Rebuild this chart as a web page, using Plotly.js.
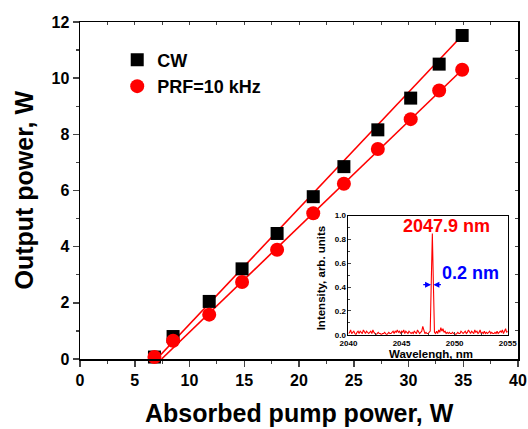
<!DOCTYPE html>
<html>
<head>
<meta charset="utf-8">
<script src="https://cdn.plot.ly/plotly-3.0.1.min.js"></script>
<style>html,body{margin:0;padding:0;background:#fff;}#chart{width:528px;height:429px;}</style>
</head>
<body>
<div id="chart"></div>
<script>
// Main data: absorbed pump power (W) vs output power (W)
const cwPump = [6.8, 8.5, 11.8, 14.8, 18.0, 21.3, 24.1, 27.2, 30.2, 32.8, 34.9];
const cwOut = [0.07, 0.80, 2.05, 3.21, 4.47, 5.78, 6.85, 8.16, 9.29, 10.50, 11.52];
const prfPump = [6.8, 8.5, 11.8, 14.8, 18.0, 21.3, 24.1, 27.2, 30.2, 32.8, 34.9];
const prfOut = [0.07, 0.65, 1.58, 2.74, 3.89, 5.19, 6.24, 7.48, 8.54, 9.56, 10.30];
// Linear fit lines (endpoints)
const cwFitX = [7.0, 34.9];
const cwFitY = [0.0, 11.52];
const prfFitX = [7.45, 34.9];
const prfFitY = [0.0, 10.30];
// Inset spectrum: wavelength grid 2040..2055 nm, 0.1 nm step
const specStart = 2040, specStep = 0.1;
const specIntensity = [
0.01,0.02,0.04,0.01,0.02,0.03,0.01,0.00,0.02,0.03,
0.01,0.03,0.02,0.01,0.04,0.02,0.01,0.03,0.02,0.01,
0.02,0.03,0.01,0.04,0.02,0.01,0.00,0.01,0.02,0.01,
0.01,0.00,0.01,0.01,0.02,0.01,0.00,0.01,0.02,0.01,
0.01,0.02,0.03,0.01,0.03,0.02,0.04,0.02,0.03,0.01,
0.03,0.02,0.04,0.01,0.03,0.02,0.01,0.03,0.02,0.01,
0.02,0.01,0.03,0.02,0.01,0.04,0.02,0.01,0.02,0.03,
0.07,0.03,0.01,0.02,0.01,0.01,0.02,0.03,0.45,0.85,
0.42,0.02,0.01,0.03,0.01,0.04,0.02,0.06,0.03,0.05,
0.02,0.03,0.01,0.02,0.01,0.02,0.01,0.01,0.02,0.01,
0.01,0.00,0.01,0.02,0.01,0.01,0.03,0.02,0.01,0.02,
0.03,0.01,0.02,0.04,0.02,0.01,0.03,0.02,0.01,0.04,
0.02,0.03,0.01,0.02,0.04,0.01,0.02,0.01,0.03,0.01,
0.02,0.01,0.02,0.03,0.01,0.02,0.01,0.01,0.02,0.01,
0.03,0.01,0.02,0.03,0.02,0.04,0.01,0.03,0.05,0.02,
0.03];
const specWl = specIntensity.map((_, i) => +(specStart + i * specStep).toFixed(2));

const FONT = 'Liberation Sans, Arial, sans-serif';
const RED = '#ff0000';

const traces = [
  {x: cwFitX, y: cwFitY, mode: 'lines', line: {color: RED, width: 1.6}, showlegend: false, xaxis: 'x', yaxis: 'y', hoverinfo: 'skip'},
  {x: prfFitX, y: prfFitY, mode: 'lines', line: {color: RED, width: 1.6}, showlegend: false, xaxis: 'x', yaxis: 'y', hoverinfo: 'skip'},
  {x: cwPump, y: cwOut, mode: 'markers', name: 'CW', marker: {symbol: 'square', size: 13, color: '#000'}, xaxis: 'x', yaxis: 'y', cliponaxis: false},
  {x: prfPump, y: prfOut, mode: 'markers', name: 'PRF=10 kHz', marker: {symbol: 'circle', size: 14, color: RED}, xaxis: 'x', yaxis: 'y', cliponaxis: false},
  {x: specWl, y: specIntensity, mode: 'lines', line: {color: RED, width: 1.1}, showlegend: false, xaxis: 'x2', yaxis: 'y2'},
  // invisible helper so the mirrored tick axes are drawn
  {x: [0], y: [0], mode: 'markers', marker: {opacity: 0}, showlegend: false, xaxis: 'x3', yaxis: 'y3', hoverinfo: 'skip'}
];

const tickFont = {family: FONT, size: 16, color: '#000', weight: 'bold'};
const smallFont = {family: FONT, size: 8, color: '#000', weight: 'bold'};

const layout = {
  width: 528, height: 429,
  margin: {l: 80, r: 10.4, t: 21.7, b: 69.7},
  paper_bgcolor: '#fff', plot_bgcolor: '#fff',
  showlegend: true,
  legend: {x: 0.085, y: 0.942, xanchor: 'left', yanchor: 'top', bgcolor: 'rgba(0,0,0,0)',
           font: {family: FONT, size: 18, color: '#000', weight: 'bold'}, itemwidth: 30, tracegroupgap: 0},
  xaxis: {domain: [0, 1], range: [0, 40], dtick: 5, tick0: 0, ticks: 'outside', ticklen: 6, tickwidth: 1.5,
          showline: true, linewidth: 1.5, linecolor: '#000', mirror: true, showgrid: false, zeroline: false,
          tickfont: tickFont, minor: {dtick: 2.5, ticks: 'outside', ticklen: 3, tickwidth: 1.2}, anchor: 'y'},
  yaxis: {domain: [0, 1], range: [0, 12], dtick: 2, tick0: 0, ticks: 'outside', ticklen: 6, tickwidth: 1.5,
          showline: true, linewidth: 1.5, linecolor: '#000', mirror: true, showgrid: false, zeroline: false,
          tickfont: tickFont, minor: {dtick: 1, ticks: 'outside', ticklen: 3, tickwidth: 1.2}, anchor: 'x'},
  xaxis3: {overlaying: 'x', side: 'top', anchor: 'y3', range: [0, 40], dtick: 2.5, ticks: 'inside', ticklen: 3,
           tickwidth: 1, showticklabels: false, showline: false, showgrid: false, zeroline: false},
  yaxis3: {overlaying: 'y', side: 'right', anchor: 'x3', range: [0, 12], dtick: 1, ticks: 'inside', ticklen: 3,
           tickwidth: 1, showticklabels: false, showline: false, showgrid: false, zeroline: false},
  xaxis2: {domain: [0.613, 0.9765], range: [2040, 2055], dtick: 5, ticks: 'inside', ticklen: 3, tickwidth: 1,
           showline: true, linewidth: 1, linecolor: '#000', mirror: true, showgrid: false, zeroline: false,
           tickfont: smallFont, minor: {dtick: 2.5, ticks: 'inside', ticklen: 2}, anchor: 'y2', ticklabelstandoff: 1},
  yaxis2: {domain: [0.072, 0.4254], range: [0, 1.0], dtick: 0.2, ticks: 'inside', ticklen: 3, tickwidth: 1,
           tickformat: '.1f', showline: true, linewidth: 1, linecolor: '#000', mirror: true, showgrid: false,
           zeroline: false, tickfont: smallFont, minor: {dtick: 0.1, ticks: 'inside', ticklen: 2}, anchor: 'x2', ticklabelstandoff: 0},
  annotations: [
    {text: 'Absorbed pump power, W', xref: 'paper', yref: 'paper', x: 0.5, y: -0.16, xanchor: 'center', yanchor: 'middle', showarrow: false,
     font: {family: FONT, size: 25, color: '#000', weight: 'bold'}},
    {text: 'Output power, W', xref: 'paper', yref: 'paper', x: -0.13, y: 0.5, xanchor: 'center', yanchor: 'middle', textangle: -90, showarrow: false,
     font: {family: FONT, size: 25, color: '#000', weight: 'bold'}},
    {text: 'Wavelengh, nm', xref: 'paper', yref: 'paper', x: 0.8005, y: 0.016, xanchor: 'center', yanchor: 'middle', showarrow: false,
     font: {family: FONT, size: 11.5, color: '#000', weight: 'bold'}},
    {text: 'Intensity, arb. units', xref: 'paper', yref: 'paper', x: 0.5507, y: 0.24, xanchor: 'center', yanchor: 'middle', textangle: -90, showarrow: false,
     font: {family: FONT, size: 11.5, color: '#000', weight: 'bold'}},
    {text: '2047.9 nm', xref: 'x2', yref: 'y2', x: 2049.25, y: 0.91, xanchor: 'center', yanchor: 'middle', showarrow: false,
     font: {family: FONT, size: 18, color: RED, weight: 'bold'}},
    {text: '0.2 nm', xref: 'x2', yref: 'y2', x: 2051.5, y: 0.52, xanchor: 'center', yanchor: 'middle', showarrow: false,
     font: {family: FONT, size: 18, color: '#0000ff', weight: 'bold'}},
    {text: '', xref: 'x2', yref: 'y2', axref: 'x2', ayref: 'y2', x: 2047.78, y: 0.42, ax: 2046.9, ay: 0.42,
     showarrow: true, arrowhead: 2, arrowsize: 1, arrowwidth: 1.2, arrowcolor: '#0000ff'},
    {text: '', xref: 'x2', yref: 'y2', axref: 'x2', ayref: 'y2', x: 2048.0, y: 0.42, ax: 2048.85, ay: 0.42,
     showarrow: true, arrowhead: 2, arrowsize: 1, arrowwidth: 1.2, arrowcolor: '#0000ff'}
  ]
};

Plotly.newPlot('chart', traces, layout, {staticPlot: true, displayModeBar: false});
</script>
</body>
</html>
